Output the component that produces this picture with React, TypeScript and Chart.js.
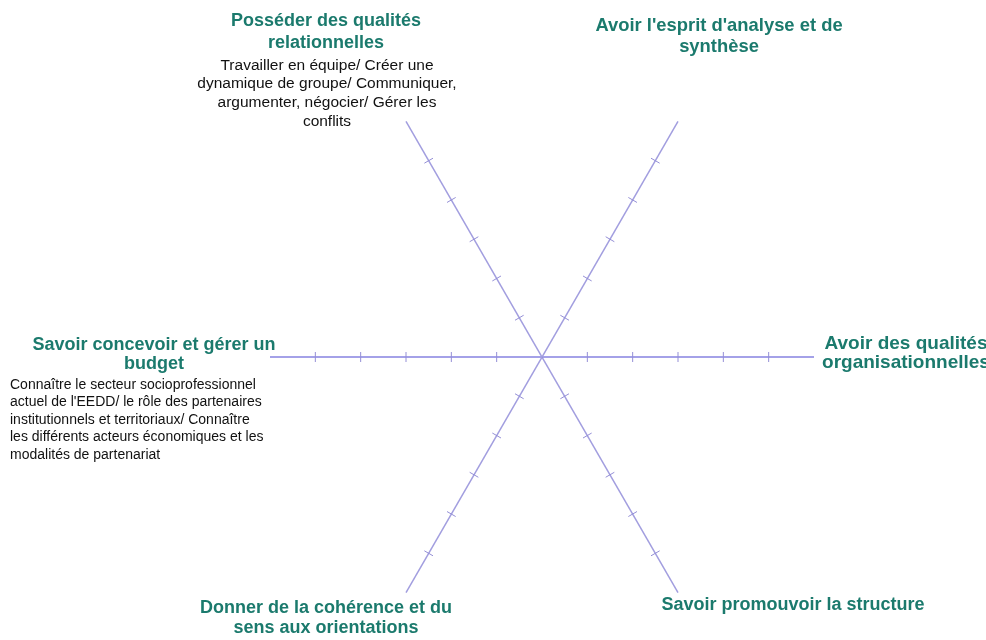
import React, { useEffect, useRef } from "react";
import { Chart, registerables } from "chart.js";

Chart.register(...registerables);

// ---- data ----
const categories: string[][] = [
  ["Posséder des qualités", "relationnelles"],
  ["Avoir l'esprit d'analyse et de", "synthèse"],
  ["Avoir des qualités", "organisationnelles"],
  ["Savoir promouvoir la structure"],
  ["Donner de la cohérence et du", "sens aux orientations"],
  ["Savoir concevoir et gérer un", "budget"],
];

const descriptions: string[][] = [
  [
    "Travailler en équipe/ Créer une",
    "dynamique de groupe/ Communiquer,",
    "argumenter, négocier/ Gérer les",
    "conflits",
  ],
  [],
  [],
  [],
  [],
  [
    "Connaître le secteur socioprofessionnel",
    "actuel de l'EEDD/ le rôle des partenaires",
    "institutionnels et territoriaux/ Connaître",
    "les différents acteurs économiques et les",
    "modalités de partenariat",
  ],
];

const scaleMin = 0;
const scaleMax = 6;
const scaleStep = 1;
const tickValues = [1, 2, 3, 4, 5];

// ---- layout (offsets from each axis end) ----
const titleLayout = [
  { dx: -80, dy: -100, size: 18, lh: 21.5 },
  { dx: 41, dy: -96, size: 18.4, lh: 21 },
  { dx: 92, dy: -13, size: 19, lh: 18.5 },
  { dx: 115, dy: 12, size: 18, lh: 20 },
  { dx: -80, dy: 15, size: 18, lh: 20 },
  { dx: -116, dy: -12, size: 18, lh: 19 },
];
const descLayout = [
  { dx: -79, dy: -56, align: "center" as CanvasTextAlign, size: 15.5, lh: 18.7 },
  null,
  null,
  null,
  null,
  { dx: -260, dy: 28, align: "left" as CanvasTextAlign, size: 14, lh: 17.5 },
];

const FONT = 'Arial, "Liberation Sans", sans-serif';
const TITLE_COLOR = "#1b7a6d";
const AXIS_COLOR_H = "#8682e0";
const AXIS_COLOR_D = "#a29edf";
const TICK_COLOR = "#948fd6";

const decorPlugin = {
  id: "axisDecor",
  afterDraw(chart: any) {
    const scale = chart.scales.r;
    const ctx: CanvasRenderingContext2D = chart.ctx;
    ctx.save();
    ctx.strokeStyle = TICK_COLOR;
    ctx.lineWidth = 1;
    for (let i = 0; i < categories.length; i++) {
      const end = scale.getPointPosition(i, scale.drawingArea);
      const px = -Math.sin(end.angle);
      const py = Math.cos(end.angle);
      for (const v of tickValues) {
        const p = scale.getPointPositionForValue(i, v);
        ctx.beginPath();
        ctx.moveTo(p.x - px * 5, p.y - py * 5);
        ctx.lineTo(p.x + px * 5, p.y + py * 5);
        ctx.stroke();
      }
    }
    ctx.textBaseline = "middle";
    for (let i = 0; i < categories.length; i++) {
      const end = scale.getPointPosition(i, scale.drawingArea);
      const t = titleLayout[i];
      ctx.font = `bold ${t.size}px ${FONT}`;
      ctx.fillStyle = TITLE_COLOR;
      ctx.textAlign = "center";
      categories[i].forEach((line, k) => {
        ctx.fillText(line, end.x + t.dx, end.y + t.dy + k * t.lh);
      });
      const d = descLayout[i];
      if (d) {
        ctx.font = `${d.size}px ${FONT}`;
        ctx.fillStyle = "#111111";
        ctx.textAlign = d.align;
        descriptions[i].forEach((line, k) => {
          ctx.fillText(line, end.x + d.dx, end.y + d.dy + k * d.lh);
        });
      }
    }
    ctx.restore();
  },
};

export default function App() {
  const ref = useRef<HTMLCanvasElement | null>(null);
  useEffect(() => {
    if (!ref.current) return;
    const chart = new Chart(ref.current, {
      type: "radar",
      data: {
        labels: categories.map((c) => c.join(" ")),
        datasets: [],
      },
      options: {
        responsive: false,
        animation: false,
        layout: { padding: { left: 270, right: 172, top: 85, bottom: 11 } },
        plugins: { legend: { display: false }, tooltip: { enabled: false } },
        scales: {
          r: {
            startAngle: -30,
            min: scaleMin,
            max: scaleMax,
            ticks: { stepSize: scaleStep, display: false },
            grid: { display: false },
            angleLines: {
              display: true,
              color: (c: any) => (c.index === 2 || c.index === 5 ? AXIS_COLOR_H : AXIS_COLOR_D),
              lineWidth: 1.5,
            },
            pointLabels: { display: false },
          },
        },
      } as any,
      plugins: [decorPlugin],
    });
    return () => chart.destroy();
  }, []);
  return (
    <div style={{ position: "fixed", left: 0, top: 0, width: 986, height: 640, background: "#fff" }}>
      <canvas ref={ref} width={986} height={640} />
    </div>
  );
}
